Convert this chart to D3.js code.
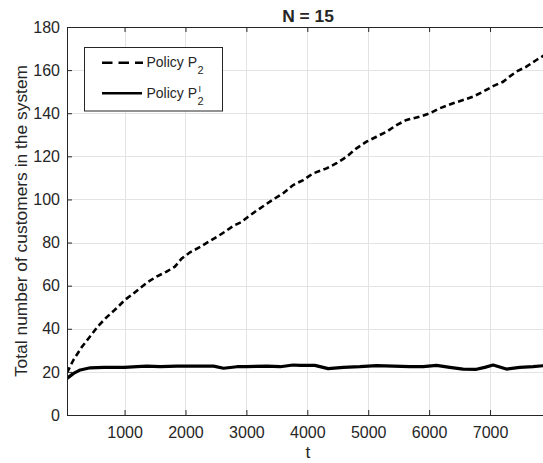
<!DOCTYPE html>
<meta charset="utf-8">
<style>
body { margin: 0; background: #fff; }
text { font-family: "Liberation Sans", Arial, Helvetica, sans-serif; fill: #262626; }
.grid line { stroke: #e3e3e3; stroke-width: 1; shape-rendering: crispEdges; }
.axis path, .axis line { stroke: #262626; }
</style>
<body>
<svg width="543" height="463" id="chart"></svg>
<script src="https://d3js.org/d3.v7.min.js"></script>
<script>

// Policy P2 (dashed)
var tP2 = [55, 160, 295, 430, 567, 704, 868, 1005, 1115, 1252, 1388, 1525, 1690, 1826, 1935, 2075, 2211, 2400, 2536, 2646, 2783, 2909, 3030, 3167, 3304, 3440, 3605, 3769, 3933, 4097, 4316, 4480, 4644, 4808, 4972, 5136, 5300, 5465, 5629, 5847, 6011, 6175, 6394, 6558, 6722, 6886, 7050, 7214, 7320, 7433, 7597, 7761, 7866, 7968];
var vP2 = [19.6, 25.5, 31.4, 36.3, 41.3, 45.3, 49.5, 53.4, 55.7, 58.8, 61.8, 64.2, 66.5, 68.8, 72.5, 75.5, 77.5, 80.7, 83, 85, 87.7, 89.4, 92, 94.8, 97.4, 100, 102.9, 106.7, 109, 112.1, 114.4, 116.8, 119.8, 123.7, 126.8, 129.1, 131.4, 134.5, 136.9, 138.4, 140, 142.3, 144.6, 146.1, 147.7, 150, 152.6, 154.6, 157, 159.3, 161.6, 164.7, 166.5, 168];

// Policy P2^I (solid)
var tP2I = [55, 163, 273, 437, 656, 1000, 1203, 1367, 1586, 1860, 2000, 2242, 2461, 2625, 2844, 3000, 3336, 3554, 3769, 3878, 4124, 4343, 4590, 4863, 5137, 5410, 5683, 5902, 6121, 6340, 6558, 6777, 6913, 7050, 7268, 7487, 7706, 7925, 7968];
var vP2I = [17, 19.3, 20.9, 21.9, 22.1, 22.1, 22.4, 22.7, 22.4, 22.7, 22.7, 22.7, 22.7, 21.7, 22.4, 22.4, 22.7, 22.4, 23.2, 23.0, 23.0, 21.5, 22.1, 22.4, 22.9, 22.7, 22.4, 22.4, 23.0, 22.1, 21.3, 21.2, 22.1, 23.2, 21.3, 22.1, 22.4, 23.0, 23.0];

var xTicks = [1000, 2000, 3000, 4000, 5000, 6000, 7000];
var yTicks = [0, 20, 40, 60, 80, 100, 120, 140, 160, 180];

var svg = d3.select("svg");
var mLeft = 67, mRight = 549, mTop = 27, mBottom = 415;

var x = d3.scaleLinear().domain([55, 7968]).range([mLeft, mRight]);
var y = d3.scaleLinear().domain([0, 180]).range([mBottom, mTop]);

// grid
var grid = svg.append("g").attr("class", "grid");
grid.selectAll(".gx").data(xTicks).enter().append("line")
    .attr("x1", d => Math.round(x(d)) + 0.5).attr("x2", d => Math.round(x(d)) + 0.5)
    .attr("y1", mTop).attr("y2", mBottom);
grid.selectAll(".gy").data(yTicks).enter().append("line")
    .attr("x1", mLeft).attr("x2", mRight)
    .attr("y1", d => Math.round(y(d)) + 0.5).attr("y2", d => Math.round(y(d)) + 0.5);

// data lines
svg.append("defs").append("clipPath").attr("id", "plot")
    .append("rect").attr("x", mLeft).attr("y", mTop).attr("width", mRight - mLeft).attr("height", mBottom - mTop);

var line = d3.line().x(d => x(d[0])).y(d => y(d[1]));
var plot = svg.append("g").attr("clip-path", "url(#plot)");

plot.append("path")
    .datum(tP2.map((t, i) => [t, vP2[i]]))
    .attr("d", line)
    .attr("fill", "none")
    .attr("stroke", "#000")
    .attr("stroke-width", 2.6)
    .attr("stroke-dasharray", "6,3.5");

plot.append("path")
    .datum(tP2I.map((t, i) => [t, vP2I[i]]))
    .attr("d", line)
    .attr("fill", "none")
    .attr("stroke", "#000")
    .attr("stroke-width", 3.2)
    .attr("stroke-linejoin", "round");

// axes
svg.append("g").attr("class", "axis")
    .attr("transform", "translate(0," + mBottom + ")")
    .call(d3.axisBottom(x).tickValues(xTicks).tickFormat(d3.format("d")).tickSizeInner(-5).tickSizeOuter(0).tickPadding(12));
svg.append("g").attr("class", "axis")
    .attr("transform", "translate(0," + mTop + ")")
    .call(d3.axisTop(x).tickValues(xTicks).tickSizeInner(-5).tickSizeOuter(0).tickFormat(""));
svg.append("g").attr("class", "axis")
    .attr("transform", "translate(" + mLeft + ",0)")
    .call(d3.axisLeft(y).tickValues(yTicks).tickSizeInner(-5).tickSizeOuter(0).tickPadding(7));
svg.selectAll(".axis text").attr("font-size", 16).attr("font-family", null).style("fill", "#262626");

// labels
svg.append("text")
    .attr("x", 308).attr("y", 458)
    .attr("text-anchor", "middle")
    .attr("font-size", 17.4)
    .text("t");

svg.append("text")
    .attr("transform", "translate(27," + ((mTop + mBottom) / 2) + ") rotate(-90)")
    .attr("text-anchor", "middle")
    .attr("font-size", 17.4)
    .text("Total number of customers in the system");

svg.append("text")
    .attr("x", 308).attr("y", 21.5)
    .attr("text-anchor", "middle")
    .attr("font-size", 17.4)
    .attr("font-weight", "bold")
    .text("N = 15");

// legend
var lg = svg.append("g");
lg.append("rect")
    .attr("x", 84.5).attr("y", 47.5).attr("width", 138).attr("height", 63.5)
    .attr("fill", "#fff").attr("stroke", "#262626").attr("stroke-width", 1);

lg.append("line")
    .attr("x1", 102).attr("x2", 143).attr("y1", 62.7).attr("y2", 62.7)
    .attr("stroke", "#000").attr("stroke-width", 2.6).attr("stroke-dasharray", "10.5,6");
lg.append("line")
    .attr("x1", 102).attr("x2", 142).attr("y1", 93.3).attr("y2", 93.3)
    .attr("stroke", "#000").attr("stroke-width", 2.6);

function legendLabel(yBase, sup) {
    var t = lg.append("text").attr("x", 146.5).attr("y", yBase).attr("font-size", 14).text("Policy P");
    var w = t.node().getComputedTextLength();
    lg.append("text").attr("x", 146.5 + w + 0.5).attr("y", yBase + 6.5).attr("font-size", 11).text("2");
    if (sup) {
        lg.append("text").attr("x", 146.5 + w + 1.5).attr("y", yBase - 6).attr("font-size", 9).text("I");
    }
}
legendLabel(67, false);
legendLabel(98, true);

</script>
</body>
